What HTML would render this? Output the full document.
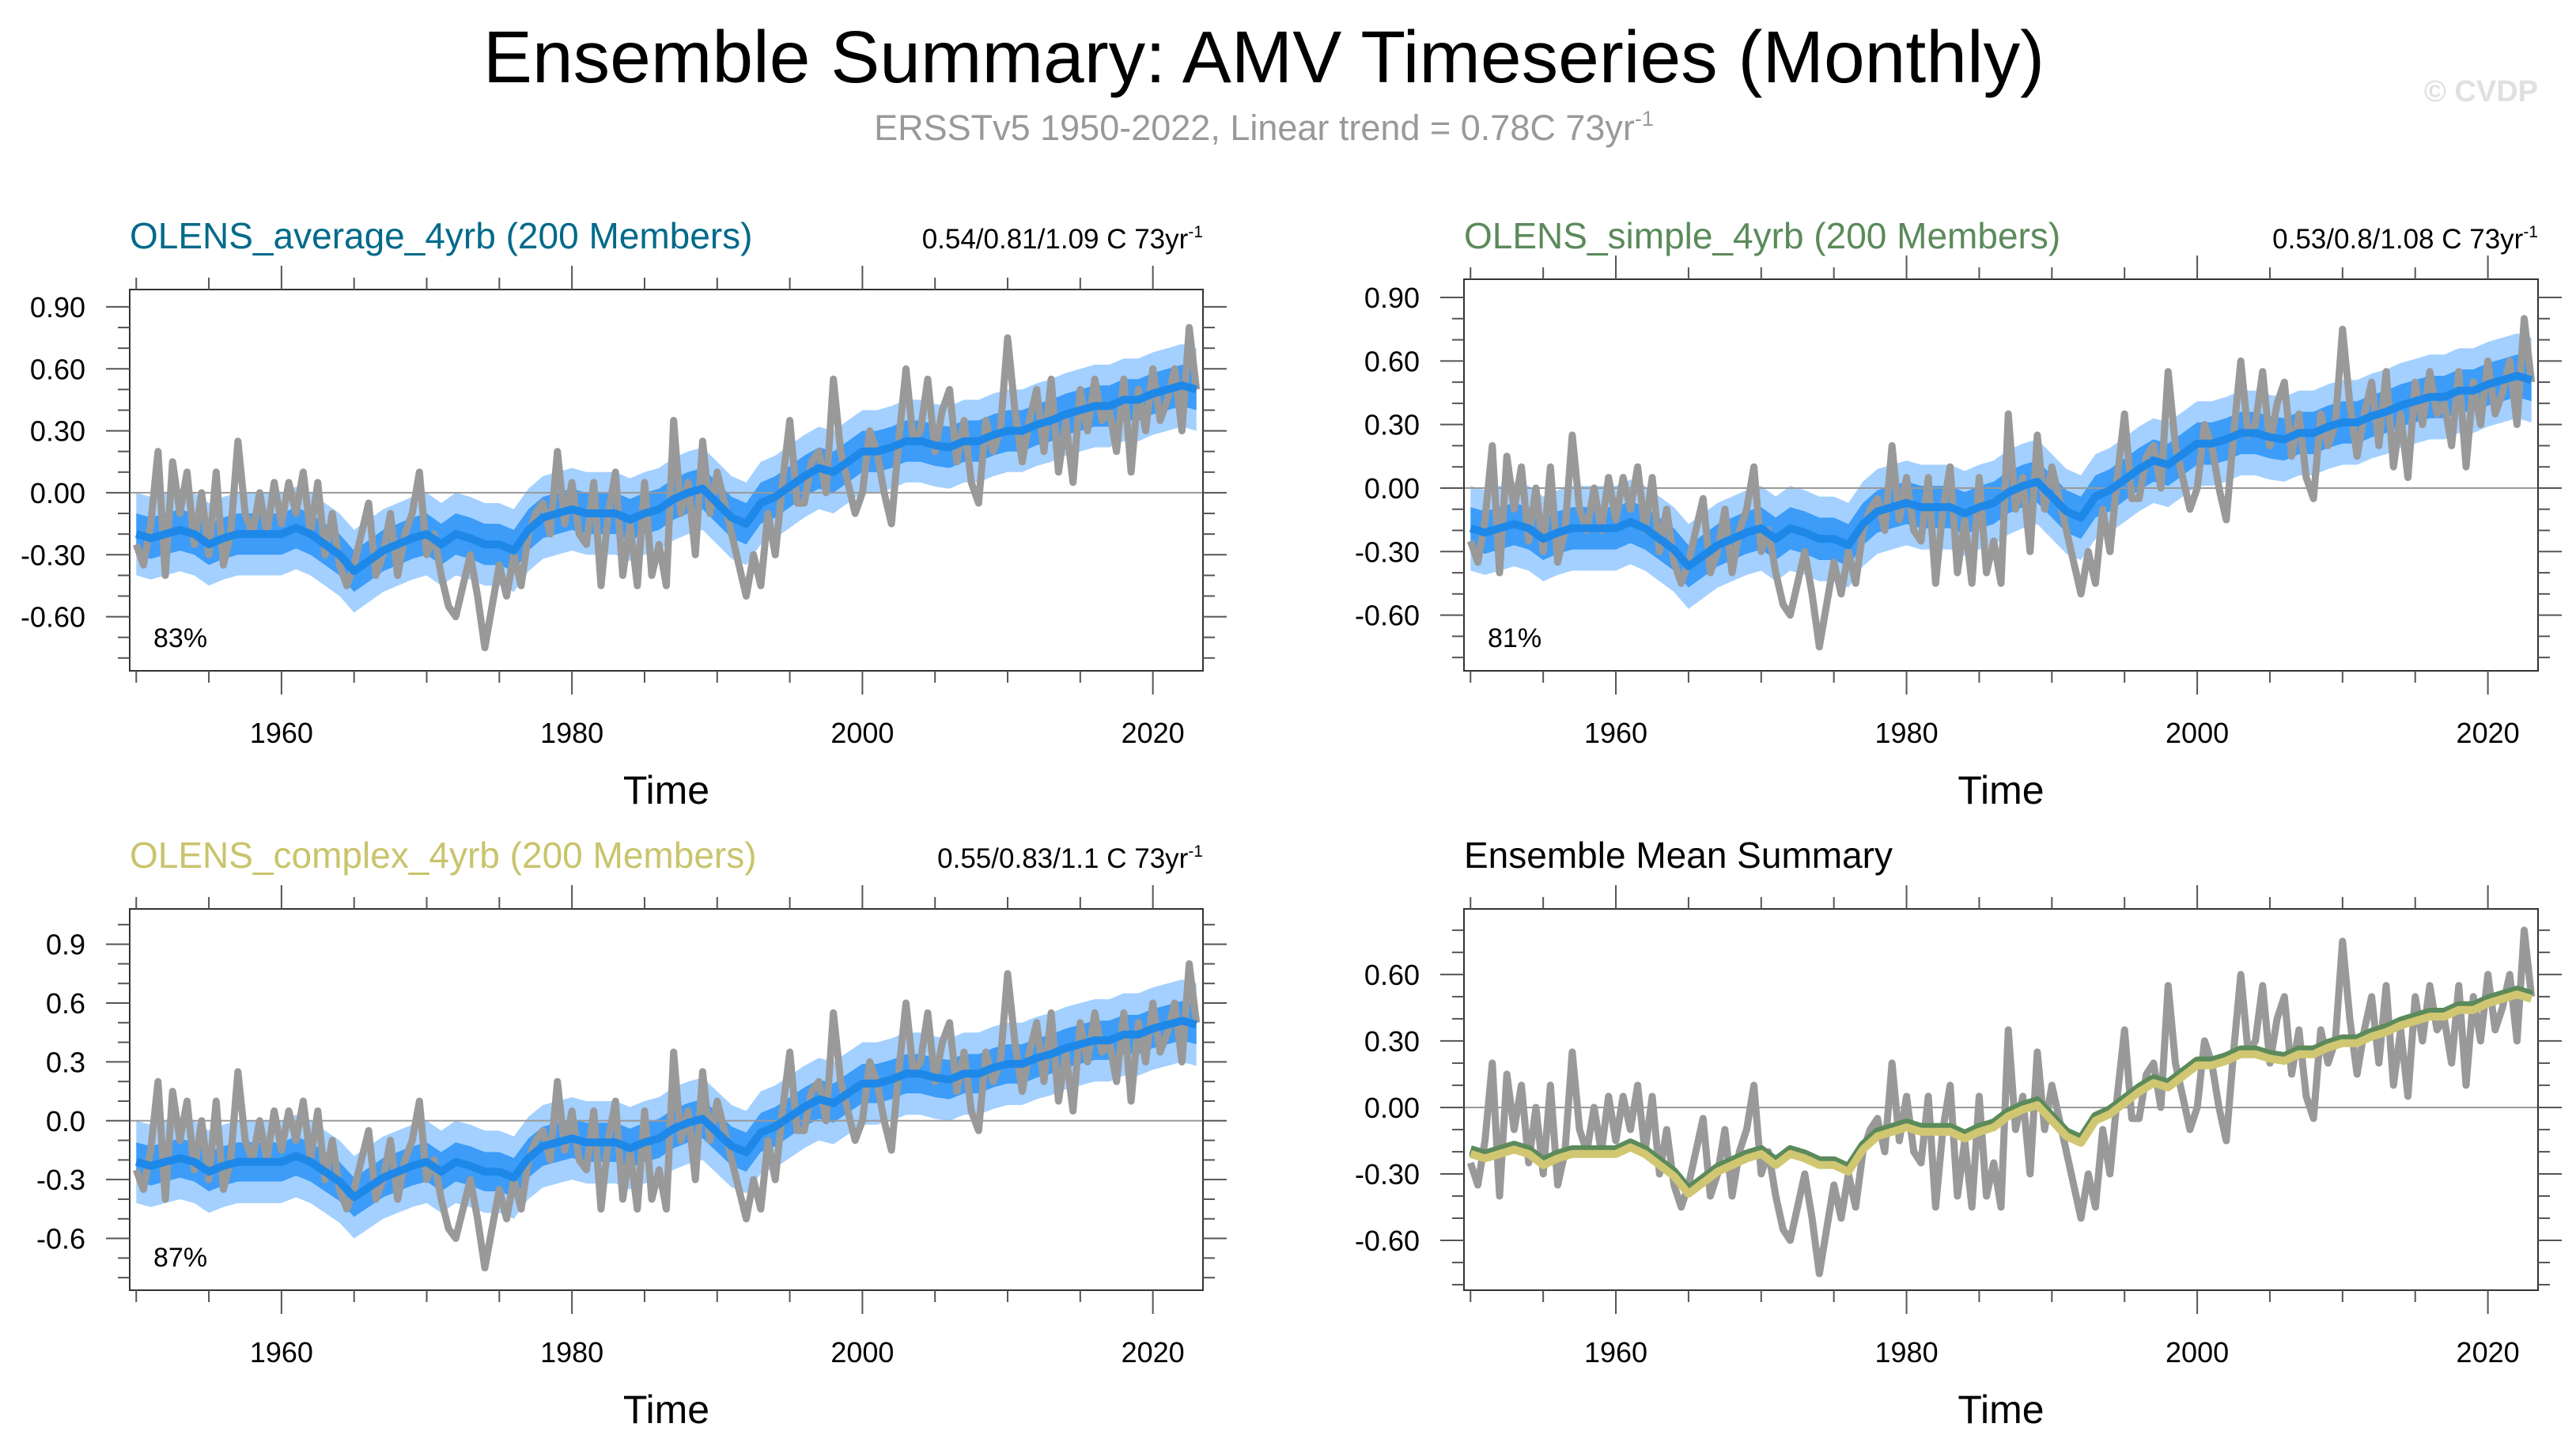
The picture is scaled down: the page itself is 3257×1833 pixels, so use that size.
<!DOCTYPE html>
<html><head><meta charset="utf-8"><style>
html,body{margin:0;padding:0;background:#fff;}
svg{display:block;font-family:"Liberation Sans",Arial,sans-serif;}
</style></head><body>
<svg id="fig" width="3257" height="1833" viewBox="0 0 3257 1833" xmlns="http://www.w3.org/2000/svg">
<text x="1598" y="104" font-size="93" text-anchor="middle" fill="#000">Ensemble Summary: AMV Timeseries (Monthly)</text>
<text x="1598" y="177" font-size="45" text-anchor="middle" fill="#999">ERSSTv5 1950-2022, Linear trend = 0.78C 73yr<tspan dy="-18" font-size="27">-1</tspan></text>
<text x="3209" y="128" font-size="38" text-anchor="end" fill="#e0e0e0" font-weight="bold">© CVDP</text>
</svg>
<script>
// ---- data ----
const obsYears = [];
for (let y = 1950; y <= 2023; y += 0.5) obsYears.push(y);
const obsValues = [-0.25,-0.35,-0.15,0.2,-0.4,0.15,-0.1,0.1,-0.25,0.0,-0.3,0.1,-0.35,-0.2,0.25,-0.1,-0.2,0.0,-0.2,0.05,
-0.15,0.05,-0.1,0.1,-0.2,0.05,-0.3,-0.1,-0.35,-0.45,-0.35,-0.2,-0.05,-0.4,-0.3,-0.1,-0.4,-0.2,-0.1,0.1,
-0.3,-0.2,-0.4,-0.55,-0.6,-0.45,-0.3,-0.5,-0.75,-0.55,-0.35,-0.5,-0.3,-0.45,-0.2,-0.1,-0.05,-0.2,0.2,-0.15,
0.05,-0.2,-0.25,0.05,-0.45,-0.1,0.1,-0.4,-0.15,-0.45,0.05,-0.4,-0.25,-0.45,0.35,-0.1,0.05,-0.3,0.25,-0.1,
0.1,-0.05,-0.2,-0.35,-0.5,-0.3,-0.45,-0.1,-0.3,0.05,0.35,-0.05,-0.05,0.15,0.2,0.0,0.55,0.2,0.05,-0.1,
0.0,0.3,0.2,0.0,-0.15,0.25,0.6,0.25,0.3,0.55,0.2,0.4,0.5,0.15,0.35,0.05,-0.05,0.35,0.2,0.3,
0.75,0.4,0.15,0.35,0.5,0.2,0.55,0.1,0.35,0.05,0.5,0.3,0.55,0.35,0.4,0.2,0.55,0.1,0.5,0.3,
0.6,0.35,0.45,0.6,0.3,0.8,0.5];
const meanYears = [];
for (let y = 1950; y <= 2023; y++) meanYears.push(y);
const meanValues = [-0.2,-0.22,-0.2,-0.18,-0.2,-0.25,-0.22,-0.2,-0.2,-0.2,-0.2,-0.17,-0.2,-0.25,-0.3,-0.38,-0.33,-0.28,-0.25,-0.22,
-0.2,-0.25,-0.2,-0.22,-0.25,-0.25,-0.28,-0.18,-0.12,-0.1,-0.08,-0.1,-0.1,-0.1,-0.13,-0.1,-0.08,-0.03,0.0,0.02,
-0.05,-0.12,-0.15,-0.05,-0.02,0.03,0.08,0.12,0.1,0.15,0.2,0.2,0.22,0.25,0.25,0.23,0.22,0.25,0.25,0.28,
0.3,0.3,0.33,0.35,0.38,0.4,0.42,0.42,0.45,0.45,0.48,0.5,0.52,0.5];
const innerSpread = [0.1, 0.1, 0.1];
const outerSpread = [0.2, 0.2, 0.21];
const memberOffsets = [0.0, 0.01, -0.01];
const panelTitles = ["OLENS_average_4yrb (200 Members)","OLENS_simple_4yrb (200 Members)","OLENS_complex_4yrb (200 Members)","Ensemble Mean Summary"];
const trendLabels = ["0.54/0.81/1.09 C 73yr","0.53/0.8/1.08 C 73yr","0.55/0.83/1.1 C 73yr",""];
const pctLabels = ["83%","81%","87%",""];
const xTickLabels = [1960,1980,2000,2020];
const yTicksA = [-0.6,-0.3,0,0.3,0.6,0.9];
const yTickLabelsA = ["-0.60","-0.30","0.00","0.30","0.60","0.90"];
const yTicksC = [-0.6,-0.3,0,0.3,0.6,0.9];
const yTickLabelsC = ["-0.6","-0.3","0.0","0.3","0.6","0.9"];
const yTicksD = [-0.6,-0.3,0,0.3,0.6];
const yTickLabelsD = ["-0.60","-0.30","0.00","0.30","0.60"];

const NS = "http://www.w3.org/2000/svg";
const svg = document.getElementById('fig');
function mk(tag, attrs, parent){const e=document.createElementNS(NS,tag);for(const k in attrs)e.setAttribute(k,attrs[k]);(parent||svg).appendChild(e);return e;}

const panels = [
 {x0:164,x1:1521,y0:366,y1:848,ymin:-0.862,ymax:0.984,titleColor:"#006a8a",ticks:yTicksA,labels:yTickLabelsA,ty:314,xl:939,tl:1016},
 {x0:1851,x1:3209,y0:353,y1:848,ymin:-0.863,ymax:0.986,titleColor:"#5b8a5b",ticks:yTicksA,labels:yTickLabelsA,ty:314,xl:939,tl:1016},
 {x0:164,x1:1521,y0:1149,y1:1631,ymin:-0.864,ymax:1.08,titleColor:"#c9c46c",ticks:yTicksC,labels:yTickLabelsC,ty:1097,xl:1722,tl:1799},
 {x0:1851,x1:3209,y0:1149,y1:1631,ymin:-0.825,ymax:0.896,titleColor:"#000",ticks:yTicksD,labels:yTickLabelsD,ty:1097,xl:1722,tl:1799}
];
const XMIN=1949.55, XMAX=2023.45;

panels.forEach((p,i)=>{
  const g = mk('g',{});
  
  
  const sx = v => p.x0 + (v-XMIN)/(XMAX-XMIN)*(p.x1-p.x0);
  const sy = v => p.y1 - (v-p.ymin)/(p.ymax-p.ymin)*(p.y1-p.y0);
  const clipId='clip'+i;
  const cp=mk('clipPath',{id:clipId},g); mk('rect',{x:p.x0,y:p.y0,width:p.x1-p.x0,height:p.y1-p.y0},cp);
  const plot = mk('g',{'clip-path':'url(#'+clipId+')'},g);
  if(i<3){
    [[outerSpread[i],'#a3d0ff','outer-spread-band'],[innerSpread[i],'#3c9cf8','inner-spread-band']].forEach(([s,c,n])=>{
      let d='';
      meanYears.forEach((y,k)=>{d+=(k?'L':'M')+sx(y).toFixed(1)+','+sy(meanValues[k]+memberOffsets[i]+s).toFixed(1);});
      for(let k=meanYears.length-1;k>=0;k--) d+='L'+sx(meanYears[k]).toFixed(1)+','+sy(meanValues[k]+memberOffsets[i]-s).toFixed(1);
      const band=mk('path',{d:d+'Z',fill:c},plot);
      
      
    });
  }
  const zl=mk('line',{x1:p.x0,x2:p.x1,y1:sy(0),y2:sy(0),stroke:'#999','stroke-width':2},plot);
  
  
  let od='';
  obsYears.forEach((y,k)=>{od+=(k?'L':'M')+sx(y).toFixed(1)+','+sy(obsValues[k]).toFixed(1);});
  const obs=mk('path',{d:od,fill:'none',stroke:'#999','stroke-width':9,'stroke-linejoin':'round'},plot);
  
  
  const drawMean=(off,color,name,w)=>{
    let d='';
    meanYears.forEach((y,k)=>{d+=(k?'L':'M')+sx(y).toFixed(1)+','+sy(meanValues[k]+off).toFixed(1);});
    const m=mk('path',{d:d,fill:'none',stroke:color,'stroke-width':w,'stroke-linejoin':'round'},plot);
    
    
  };
  if(i<3) drawMean(memberOffsets[i],'#1e88e8','ensemble-mean-line',10);
  else {
    drawMean(memberOffsets[0],'#006a8a','average-mean-line',11);
    drawMean(memberOffsets[1],'#5b8a5b','simple-mean-line',11);
    drawMean(memberOffsets[2],'#d1c772','complex-mean-line',10);
  }
  const fr=mk('rect',{x:p.x0,y:p.y0,width:p.x1-p.x0,height:p.y1-p.y0,fill:'none',stroke:'#333','stroke-width':2},g);
  
  
  for(let y=1950;y<=2020;y+=5){
    const major = (y%20===0);
    const L = major?30:15;
    const X=sx(y);
    mk('line',{x1:X,x2:X,y1:p.y0,y2:p.y0-L,stroke:'#555','stroke-width':2},g);
    mk('line',{x1:X,x2:X,y1:p.y1,y2:p.y1+L,stroke:'#555','stroke-width':2},g);
  }
  xTickLabels.forEach(v=>{
    const t=mk('text',{x:sx(v),y:p.xl,'font-size':36,'text-anchor':'middle',fill:'#000'},g);
    t.textContent=v;
    
    
  });
  for(let v=-0.8;v<=1.05;v+=0.1){
    const r=Math.round(v*10)/10;
    if(r<p.ymin||r>p.ymax) continue;
    const major = p.ticks.some(t=>Math.abs(t-r)<1e-6);
    const L=major?30:15;
    const Y=sy(r);
    mk('line',{x1:p.x0,x2:p.x0-L,y1:Y,y2:Y,stroke:'#555','stroke-width':2},g);
    mk('line',{x1:p.x1,x2:p.x1+L,y1:Y,y2:Y,stroke:'#555','stroke-width':2},g);
  }
  p.ticks.forEach((v,k)=>{
    const t=mk('text',{x:p.x0-56,y:sy(v)+13,'font-size':36,'text-anchor':'end',fill:'#000'},g);
    t.textContent=p.labels[k];
    
    
  });
  const tt=mk('text',{x:p.x0,y:p.ty,'font-size':46,fill:p.titleColor},g);
  tt.textContent=panelTitles[i];
  
  
  if(trendLabels[i]){
    const tr=mk('text',{x:p.x1,y:p.ty,'font-size':35,'text-anchor':'end',fill:'#000'},g);
    tr.textContent=trendLabels[i];
    const sup=mk('tspan',{dy:-14,'font-size':21},tr); sup.textContent='-1';
    
    
    const pc=mk('text',{x:p.x0+30,y:p.y1-30,'font-size':34,fill:'#000'},g);
    pc.textContent=pctLabels[i];
    
    
  }
  const xt=mk('text',{x:(p.x0+p.x1)/2,y:p.tl,'font-size':50,'text-anchor':'middle',fill:'#000'},g);
  xt.textContent='Time';
  
  
});
</script>
</body></html>
